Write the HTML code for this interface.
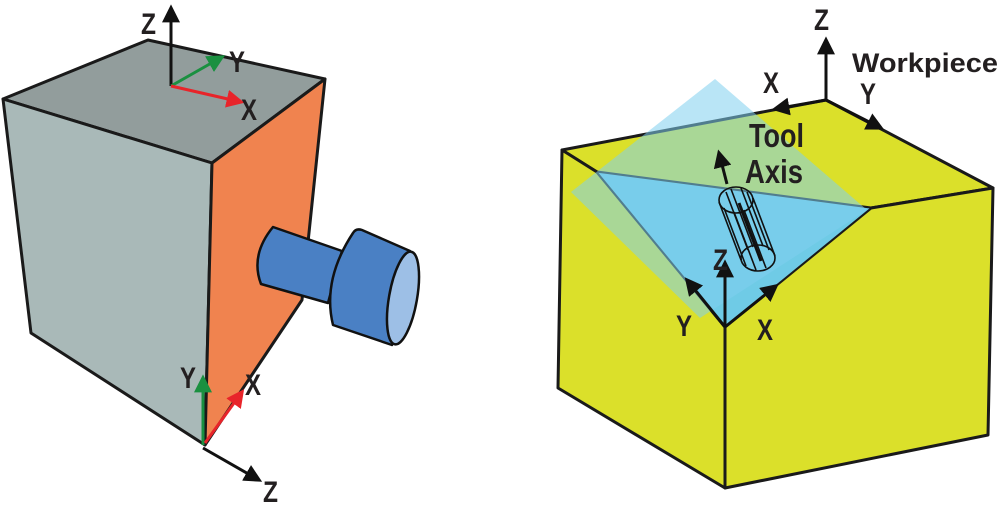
<!DOCTYPE html>
<html><head><meta charset="utf-8"><style>
html,body{margin:0;padding:0;background:#fff}
svg{display:block}
text{font-family:"Liberation Sans",sans-serif;font-weight:bold;fill:#231f20}
</style></head><body>
<svg width="1000" height="510" viewBox="0 0 1000 510" xmlns="http://www.w3.org/2000/svg">
<defs>
<marker id="ak" viewBox="0 0 10 10" refX="8" refY="5" markerWidth="6" markerHeight="6" orient="auto"><path d="M0,0L10,5L0,10z" fill="#111"/></marker>
<marker id="ar" viewBox="0 0 10 10" refX="8" refY="5" markerWidth="6" markerHeight="6" orient="auto"><path d="M0,0L10,5L0,10z" fill="#e8242a"/></marker>
<marker id="ag" viewBox="0 0 10 10" refX="8" refY="5" markerWidth="6" markerHeight="6" orient="auto"><path d="M0,0L10,5L0,10z" fill="#1a9040"/></marker>
</defs>
<!-- LEFT CUBE -->
<g stroke="#1a1a1a" stroke-width="3" stroke-linejoin="round">
<polygon points="3,99 148,40 325,79 212,163" fill="#929d9c"/>
<polygon points="3,99 212,163 205,445 31,333" fill="#a9b9b8"/>
<polygon points="212,163 325,79 302,300 205,445" fill="#f0834f"/>
</g>
<!-- tool -->
<g stroke="#111" stroke-width="2.5" fill="#4a80c4" stroke-linejoin="round">
<path d="M273,227 L342,251 L328,303 L261,284 Q250,255 273,227z"/>
<path d="M353,233 Q356,228 362,230 L410,251 L392,345 L333,325 Q322,280 353,233z"/>
<ellipse cx="403" cy="298" rx="14" ry="47" transform="rotate(10 403 298)" fill="#9dbfe6"/>
</g>
<!-- left axes -->
<g stroke-width="3" fill="none">
<line x1="171" y1="86" x2="171" y2="8" stroke="#111" marker-end="url(#ak)"/>
<line x1="171" y1="86" x2="222" y2="57" stroke="#1a9040" marker-end="url(#ag)"/>
<line x1="171" y1="86" x2="241" y2="102" stroke="#e8242a" marker-end="url(#ar)"/>
<line x1="203" y1="445" x2="203" y2="378" stroke="#1a9040" marker-end="url(#ag)"/>
<line x1="205" y1="443" x2="242" y2="392" stroke="#e8242a" marker-end="url(#ar)"/>
<line x1="203" y1="448" x2="259" y2="480" stroke="#111" marker-end="url(#ak)"/>
</g>
<g font-size="30">
<text x="141" y="34" textLength="15" lengthAdjust="spacingAndGlyphs">Z</text>
<text x="229" y="72" textLength="16" lengthAdjust="spacingAndGlyphs">Y</text>
<text x="241" y="120" textLength="16" lengthAdjust="spacingAndGlyphs">X</text>
<text x="180" y="388" textLength="16" lengthAdjust="spacingAndGlyphs">Y</text>
<text x="245" y="395" textLength="16" lengthAdjust="spacingAndGlyphs">X</text>
<text x="263" y="502" textLength="15" lengthAdjust="spacingAndGlyphs">Z</text>
</g>
<!-- RIGHT CUBE -->
<g stroke="#1a1a1a" stroke-width="3" stroke-linejoin="round" fill="#dbe02a">
<polygon points="562,150 826,100 993,188 871,208 597,172"/>
<polygon points="562,150 597,172 725,327 725,488 558,388"/>
<polygon points="871,208 993,188 988,435 725,488 725,327"/>
</g>
<polygon points="597,172 871,208 725,327" fill="#6fcbe6" stroke="#1a1a1a" stroke-width="1.2"/>
<polygon points="715,79 867,210 700,318 571,192" fill="#7fd0ee" fill-opacity="0.55"/>
<!-- tool cylinder wireframe -->
<g stroke="#111" stroke-width="1.6" fill="none">
<ellipse cx="736" cy="200" rx="17" ry="13"/>
<ellipse cx="758" cy="258" rx="17" ry="13"/>
<line x1="719" y1="202" x2="741" y2="260"/>
<line x1="753" y1="198" x2="775" y2="256"/>
<line x1="726" y1="192" x2="748" y2="250"/>
<line x1="731" y1="189" x2="753" y2="247"/>
<line x1="741" y1="188" x2="763" y2="246"/>
<line x1="747" y1="192" x2="769" y2="250"/>
<line x1="724" y1="208" x2="746" y2="266"/>
<line x1="734" y1="212" x2="756" y2="270"/>
<line x1="744" y1="210" x2="766" y2="268"/>
<line x1="739" y1="203" x2="761" y2="261" stroke-width="3"/>
</g>
<g stroke="#111" stroke-width="3" fill="none">
<line x1="727" y1="184" x2="719" y2="153" marker-end="url(#ak)"/>
<line x1="826" y1="100" x2="826" y2="40" marker-end="url(#ak)"/>
<line x1="826" y1="100" x2="775" y2="109" marker-end="url(#ak)"/>
<line x1="826" y1="100" x2="881" y2="128" marker-end="url(#ak)"/>
<line x1="725" y1="327" x2="725" y2="263" marker-end="url(#ak)"/>
<line x1="725" y1="327" x2="687" y2="280" marker-end="url(#ak)"/>
<line x1="725" y1="327" x2="776" y2="286" marker-end="url(#ak)"/>
</g>
<g font-size="30">
<text x="814" y="30" textLength="15" lengthAdjust="spacingAndGlyphs">Z</text>
<text x="852" y="72" font-size="27" textLength="146" lengthAdjust="spacingAndGlyphs">Workpiece</text>
<text x="763" y="93" textLength="16" lengthAdjust="spacingAndGlyphs">X</text>
<text x="860" y="104" textLength="16" lengthAdjust="spacingAndGlyphs">Y</text>
<text x="749" y="147" font-size="33" textLength="55" lengthAdjust="spacingAndGlyphs">Tool</text>
<text x="745" y="183" font-size="33" textLength="58" lengthAdjust="spacingAndGlyphs">Axis</text>
<text x="713" y="270" textLength="15" lengthAdjust="spacingAndGlyphs">Z</text>
<text x="676" y="336" textLength="16" lengthAdjust="spacingAndGlyphs">Y</text>
<text x="757" y="340" textLength="16" lengthAdjust="spacingAndGlyphs">X</text>
</g>
</svg>
</body></html>
